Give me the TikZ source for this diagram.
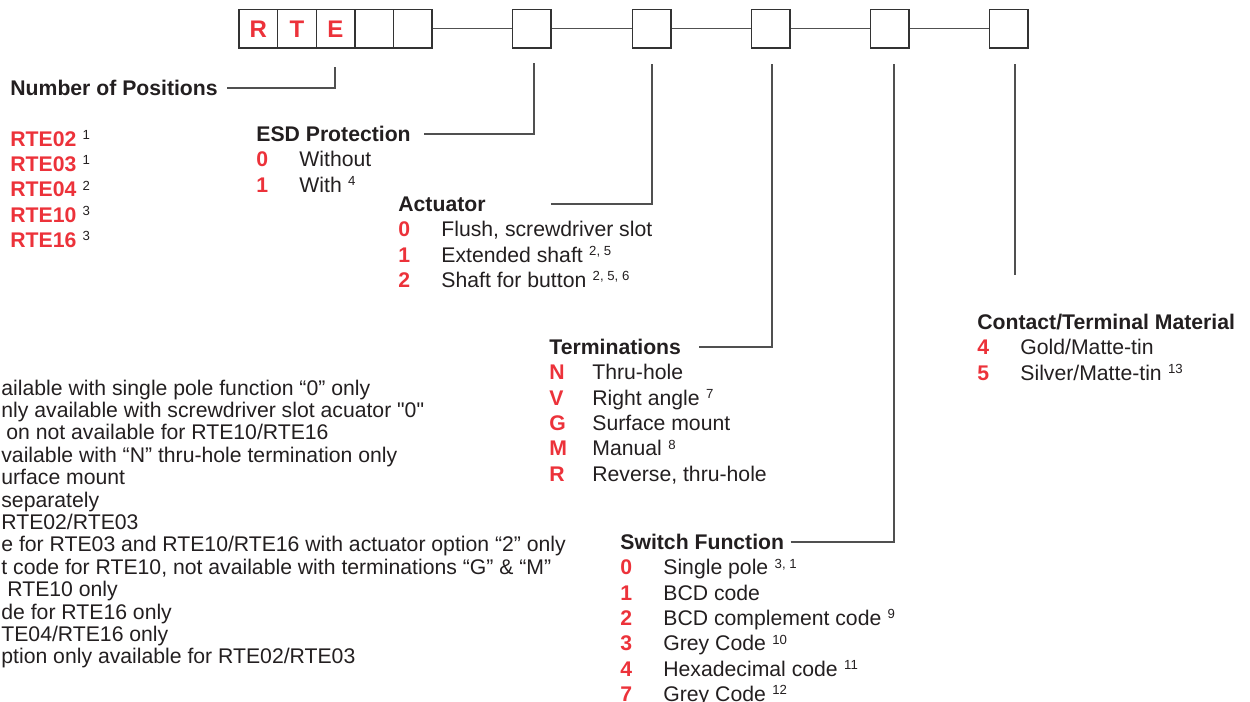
\documentclass[tikz,border=0pt]{standalone}
\usepackage{fontspec}
\setmainfont{Liberation Sans}
\usetikzlibrary{positioning}

\definecolor{rtered}{RGB}{236,50,58}
\definecolor{ink}{RGB}{35,31,32}
\definecolor{wire}{RGB}{80,80,80}

\font\plainq="Liberation Sans" at 10.6pt
\newcommand{\sq}{{\plainq"}}
\newcommand{\fn}[1]{\hspace{0.3em}\raisebox{3.4pt}{\fontsize{6.6}{7}\selectfont #1}}
\newcommand{\key}[1]{\textcolor{rtered}{\bfseries #1}}
\newcommand{\opt}[2]{\makebox[21.5pt][l]{\key{#1}}#2}

\tikzset{
  cell/.style={draw=black!80, line width=0.7pt, minimum width=19.3pt, minimum height=19.25pt,
    inner sep=0pt, font=\fontsize{12}{12}\selectfont\bfseries, text=rtered},
  title/.style={anchor=west, inner sep=0pt, text height=7.6pt, text depth=0pt,
    font=\fontsize{10.6}{12.65}\selectfont\bfseries, text=ink},
  options/.style={anchor=base west, inner sep=0pt, font=\fontsize{10.6}{12.65}\selectfont, text=ink},
  leader/.style={draw=wire, line width=0.6pt}
}

\begin{document}
\begin{tikzpicture}[x=0.5pt,y=-0.5pt]
\useasboundingbox (0,0) rectangle (1250,702);

% ordering code boxes
\foreach \i/\l in {1/R,2/T,3/E,4/,5/}
  \node[cell] (c\i) at ({239+38.6*(\i-0.5)},28.75) {\l};
\foreach \i/\x in {6/531.5,7/651.5,8/770.5,9/889.5,10/1008.5}
  \node[cell] (c\i) at (\x,28.75) {};
\foreach \a/\b in {5/6,6/7,7/8,8/9,9/10}
  \draw[leader] (c\a.east) -- (c\b.west);

% field titles
\node[title] (nop) at (10,88) {Number of Positions};
\node[title] (esd) at (256,134) {ESD Protection};
\node[title] (act) at (398,204) {Actuator};
\node[title] (term) at (549,347) {Terminations};
\node[title] (swf) at (620,542) {Switch Function};
\node[title] (mat) at (977,322) {Contact/Terminal Material};

% option lists
\node[options] (noplist) at ([yshift=-25.3pt]nop.base west) {\begin{tabular}[t]{@{}l@{}}
  \key{RTE02}\fn{1}\\ \key{RTE03}\fn{1}\\ \key{RTE04}\fn{2}\\ \key{RTE10}\fn{3}\\ \key{RTE16}\fn{3}
\end{tabular}};
\node[options] (esdlist) at ([yshift=-12.65pt]esd.base west) {\begin{tabular}[t]{@{}l@{}}
  \opt{0}{Without}\\ \opt{1}{With\fn{4}}
\end{tabular}};
\node[options] (actlist) at ([yshift=-12.65pt]act.base west) {\begin{tabular}[t]{@{}l@{}}
  \opt{0}{Flush, screwdriver slot}\\ \opt{1}{Extended shaft\fn{2, 5}}\\ \opt{2}{Shaft for button\fn{2, 5, 6}}
\end{tabular}};
\node[options] (termlist) at ([yshift=-12.65pt]term.base west) {\begin{tabular}[t]{@{}l@{}}
  \opt{N}{Thru-hole}\\ \opt{V}{Right angle\fn{7}}\\ \opt{G}{Surface mount}\\ \opt{M}{Manual\fn{8}}\\ \opt{R}{Reverse, thru-hole}
\end{tabular}};
\node[options] (swflist) at ([yshift=-12.65pt]swf.base west) {\begin{tabular}[t]{@{}l@{}}
  \opt{0}{Single pole\fn{3, 1}}\\ \opt{1}{BCD code}\\ \opt{2}{BCD complement code\fn{9}}\\
  \opt{3}{Grey Code\fn{10}}\\ \opt{4}{Hexadecimal code\fn{11}}\\ \opt{7}{Grey Code\fn{12}}
\end{tabular}};
\node[options] (matlist) at ([yshift=-12.65pt]mat.base west) {\begin{tabular}[t]{@{}l@{}}
  \opt{4}{Gold/Matte-tin}\\ \opt{5}{Silver/Matte-tin\fn{13}}
\end{tabular}};

% footnotes
\node[options, font=\fontsize{10.6}{11.2}\selectfont] (notes) at (1,395) {\begin{tabular}[t]{@{}l@{}}
  ailable with single pole function “0” only\\
  nly available with screwdriver slot acuator \sq0\sq\\
  \hspace*{2.5pt}on not available for RTE10/RTE16\\
  vailable with “N” thru-hole termination only\\
  urface mount\\
  separately\\
  RTE02/RTE03\\
  e for RTE03 and RTE10/RTE16 with actuator option “2” only\\
  t code for RTE10, not available with terminations “G” \& “M”\\
  \hspace*{3pt}RTE10 only\\
  de for RTE16 only\\
  TE04/RTE16 only\\
  ption only available for RTE02/RTE03
\end{tabular}};

% leaders from the boxes
\foreach \n/\x/\y/\g in {nop/335/67/4.5,esd/534/63/6.5,act/652/64/32.5,term/772/64/9,swf/894/64/3}{
  \coordinate (\n-top) at (\x,\y);
  \draw[leader] ([xshift=\g pt]\n.east) -- (\n.east -| \n-top) -- (\n-top);
}
\coordinate (mat-top) at (1015,64);
\coordinate (mat-end) at (1015,275);
\draw[leader] (mat-top) -- (mat-end);

\end{tikzpicture}
\end{document}
